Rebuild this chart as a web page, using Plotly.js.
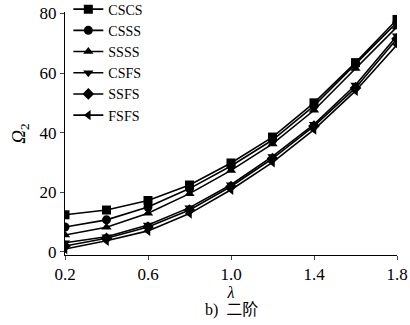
<!DOCTYPE html>
<html><head><meta charset="utf-8">
<script src="https://cdn.plot.ly/plotly-3.0.1.min.js"></script>
<style>html,body{margin:0;padding:0;background:#fff}#g{width:410px;height:325px}</style>
</head><body><div id="g"></div>
<script>
const lambda = [0.2, 0.4, 0.6, 0.8, 1.0, 1.2, 1.4, 1.6, 1.8];
const CSCS = [12.4, 14.0, 17.2, 22.4, 29.8, 38.5, 50.0, 63.5, 78.0];
const CSSS = [8.3, 10.7, 15.0, 21.2, 28.8, 37.5, 49.0, 63.0, 77.0];
const SSSS = [5.6, 8.2, 12.9, 19.5, 27.3, 36.2, 47.5, 61.5, 75.5];
const CSFS = [3.0, 5.0, 9.0, 14.8, 22.5, 32.0, 42.8, 56.0, 72.5];
const SSFS = [1.9, 4.5, 8.3, 14.0, 21.9, 31.3, 42.2, 55.0, 71.5];
const FSFS = [0.9, 3.7, 7.0, 12.8, 20.8, 30.0, 41.0, 54.0, 69.5];
const seriesNames = ['CSCS', 'CSSS', 'SSSS', 'CSFS', 'SSFS', 'FSFS'];
const seriesData = [CSCS, CSSS, SSSS, CSFS, SSFS, FSFS];
const symbols = ['square', 'circle', 'triangle-up', 'triangle-down', 'diamond', 'triangle-left'];
const xTicks = [0.2, 0.6, 1.0, 1.4, 1.8];
const xTickText = ['0.2', '0.6', '1.0', '1.4', '1.8'];
const yTicks = [0, 20, 40, 60, 80];

const serif = '"Liberation Serif", serif';
const traces = seriesNames.map((n, i) => ({
  x: lambda, y: seriesData[i], name: n, type: 'scatter', mode: 'lines+markers',
  line: {color: '#000', width: 1.6},
  marker: {symbol: symbols[i], size: 9, color: '#000'}
}));

const layout = {
  width: 410, height: 325,
  margin: {l: 65, r: 13, t: 12, b: 70, autoexpand: false},
  paper_bgcolor: '#fff', plot_bgcolor: '#fff',
  font: {family: serif, color: '#000', size: 17},
  showlegend: true,
  legend: {x: 0.01, y: 1.076, xanchor: 'left', yanchor: 'top', bgcolor: 'rgba(0,0,0,0)',
    font: {family: serif, size: 14, color: '#000'}, tracegroupgap: 0, itemwidth: 30},
  xaxis: {range: [0.2, 1.8], tickvals: xTicks, ticktext: xTickText, ticks: 'outside', ticklen: 4,
    showline: true, linecolor: '#000', linewidth: 1, showgrid: false, zeroline: false,
    tickfont: {family: serif, size: 17},
    title: {text: '<i>λ</i>', font: {family: serif, size: 16}, standoff: 0}},
  yaxis: {range: [-1.1, 80.5], tickvals: yTicks, ticks: 'outside', ticklen: 4,
    showline: true, linecolor: '#000', linewidth: 1, showgrid: false, zeroline: false,
    tickfont: {family: serif, size: 17},
    title: {text: '<i>Ω</i><sub>2</sub>', font: {family: serif, size: 19}, standoff: 8}},
  annotations: [{xref: 'paper', yref: 'paper', x: 0.5, y: 0, yshift: -55, xanchor: 'center', yanchor: 'middle',
    text: 'b)  二阶', showarrow: false, font: {family: '"Liberation Serif", "Noto Sans CJK SC", serif', size: 16, color: '#000'}}]
};
Plotly.newPlot('g', traces, layout, {displayModeBar: false, staticPlot: true});
</script></body></html>
